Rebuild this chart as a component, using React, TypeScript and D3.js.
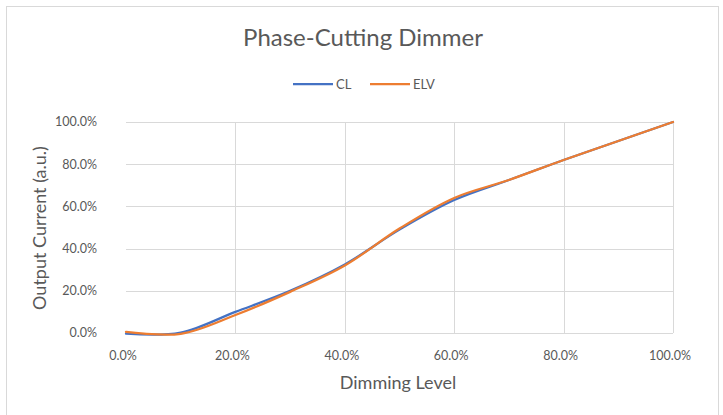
import { useEffect, useRef } from "react";
import * as d3 from "d3";

const levels = [0, 10, 20, 30, 40, 50, 60, 70, 80, 90, 100];
const clValues = [-0.3, 0.2, 10, 20, 32.5, 49, 63, 72.5, 82, 91, 100];
const elvValues = [0.5, -0.4, 8.5, 19.5, 32, 49.5, 64, 72.5, 82, 91, 100];
const xTicks = [0, 20, 40, 60, 80, 100];
const yTicks = [0, 20, 40, 60, 80, 100];
const seriesNames = ["CL", "ELV"];
const seriesColors = ["#4472C4", "#ED7D31"];

const FONT = "Lato, 'Open Sans', sans-serif";
const TEXT = "#595959";

export default function App() {
  const ref = useRef<SVGSVGElement>(null);

  useEffect(() => {
    const svg = d3.select(ref.current);
    svg.selectAll("*").remove();

    const left = 126, right = 673, top = 122, bottom = 333;

    svg.append("rect")
      .attr("x", 6.5).attr("y", 6.5)
      .attr("width", 712).attr("height", 420)
      .attr("fill", "#fff")
      .attr("stroke", "#d9d9d9");

    const x = d3.scaleLinear().domain([0, 100]).range([left, right]);
    const y = d3.scaleLinear().domain([0, 100]).range([bottom, top]);

    // grid
    const grid = svg.append("g").attr("stroke", "#d9d9d9").attr("stroke-width", 1);
    grid.selectAll("line.h")
      .data(yTicks)
      .join("line")
        .attr("x1", left).attr("x2", right)
        .attr("y1", d => Math.round(y(d)) + 0.5)
        .attr("y2", d => Math.round(y(d)) + 0.5);
    grid.selectAll("line.v")
      .data(xTicks.slice(1))
      .join("line")
        .attr("class", "v")
        .attr("y1", top).attr("y2", bottom)
        .attr("x1", d => Math.round(x(d)) + 0.5)
        .attr("x2", d => Math.round(x(d)) + 0.5);

    // tick labels
    svg.append("g")
      .selectAll("text")
      .data(yTicks)
      .join("text")
        .attr("x", left - 29)
        .attr("y", d => y(d))
        .attr("dy", "0.35em")
        .attr("text-anchor", "end")
        .attr("font-family", FONT)
        .attr("font-size", 12.5)
        .attr("fill", TEXT)
        .text(d => d.toFixed(1) + "%");

    svg.append("g")
      .selectAll("text")
      .data(xTicks)
      .join("text")
        .attr("x", d => x(d) - 3)
        .attr("y", 356)
        .attr("dy", "0.35em")
        .attr("text-anchor", "middle")
        .attr("font-family", FONT)
        .attr("font-size", 12.5)
        .attr("fill", TEXT)
        .text(d => d.toFixed(1) + "%");

    // lines
    const series = [clValues, elvValues];
    const line = d3.line<number>()
      .x((_, i) => x(levels[i]))
      .y(d => y(d))
      .curve(d3.curveCatmullRom.alpha(0.5));

    svg.append("g")
      .selectAll("path")
      .data(series)
      .join("path")
        .attr("d", d => line(d))
        .attr("fill", "none")
        .attr("stroke", (_, i) => seriesColors[i])
        .attr("stroke-width", 2.25)
        .attr("stroke-linecap", "round");

    // title
    svg.append("text")
      .attr("x", 363).attr("y", 38)
      .attr("dy", "0.35em")
      .attr("text-anchor", "middle")
      .attr("font-family", FONT)
      .attr("font-size", 24)
      .attr("fill", TEXT)
      .text("Phase-Cutting Dimmer");

    // legend
    const legendX = [293, 370];
    const legend = svg.append("g")
      .selectAll("g")
      .data(seriesNames)
      .join("g")
        .attr("transform", (_, i) => `translate(${legendX[i]},84)`);
    legend.append("line")
      .attr("x1", 0).attr("x2", 40)
      .attr("stroke", (_, i) => seriesColors[i])
      .attr("stroke-width", 2.25);
    legend.append("text")
      .attr("x", 43)
      .attr("dy", "0.35em")
      .attr("font-family", FONT)
      .attr("font-size", 13)
      .attr("fill", TEXT)
      .text(d => d);

    // axis titles
    svg.append("text")
      .attr("x", 398).attr("y", 383)
      .attr("dy", "0.35em")
      .attr("text-anchor", "middle")
      .attr("font-family", FONT)
      .attr("font-size", 18)
      .attr("fill", TEXT)
      .text("Dimming Level");

    svg.append("text")
      .attr("transform", "translate(40,228) rotate(-90)")
      .attr("dy", "0.35em")
      .attr("text-anchor", "middle")
      .attr("font-family", FONT)
      .attr("font-size", 18)
      .attr("fill", TEXT)
      .text("Output Current (a.u.)");
  }, []);

  return (
    <svg
      ref={ref}
      width={723}
      height={415}
      style={{ position: "absolute", left: 0, top: 0, display: "block" }}
    />
  );
}
